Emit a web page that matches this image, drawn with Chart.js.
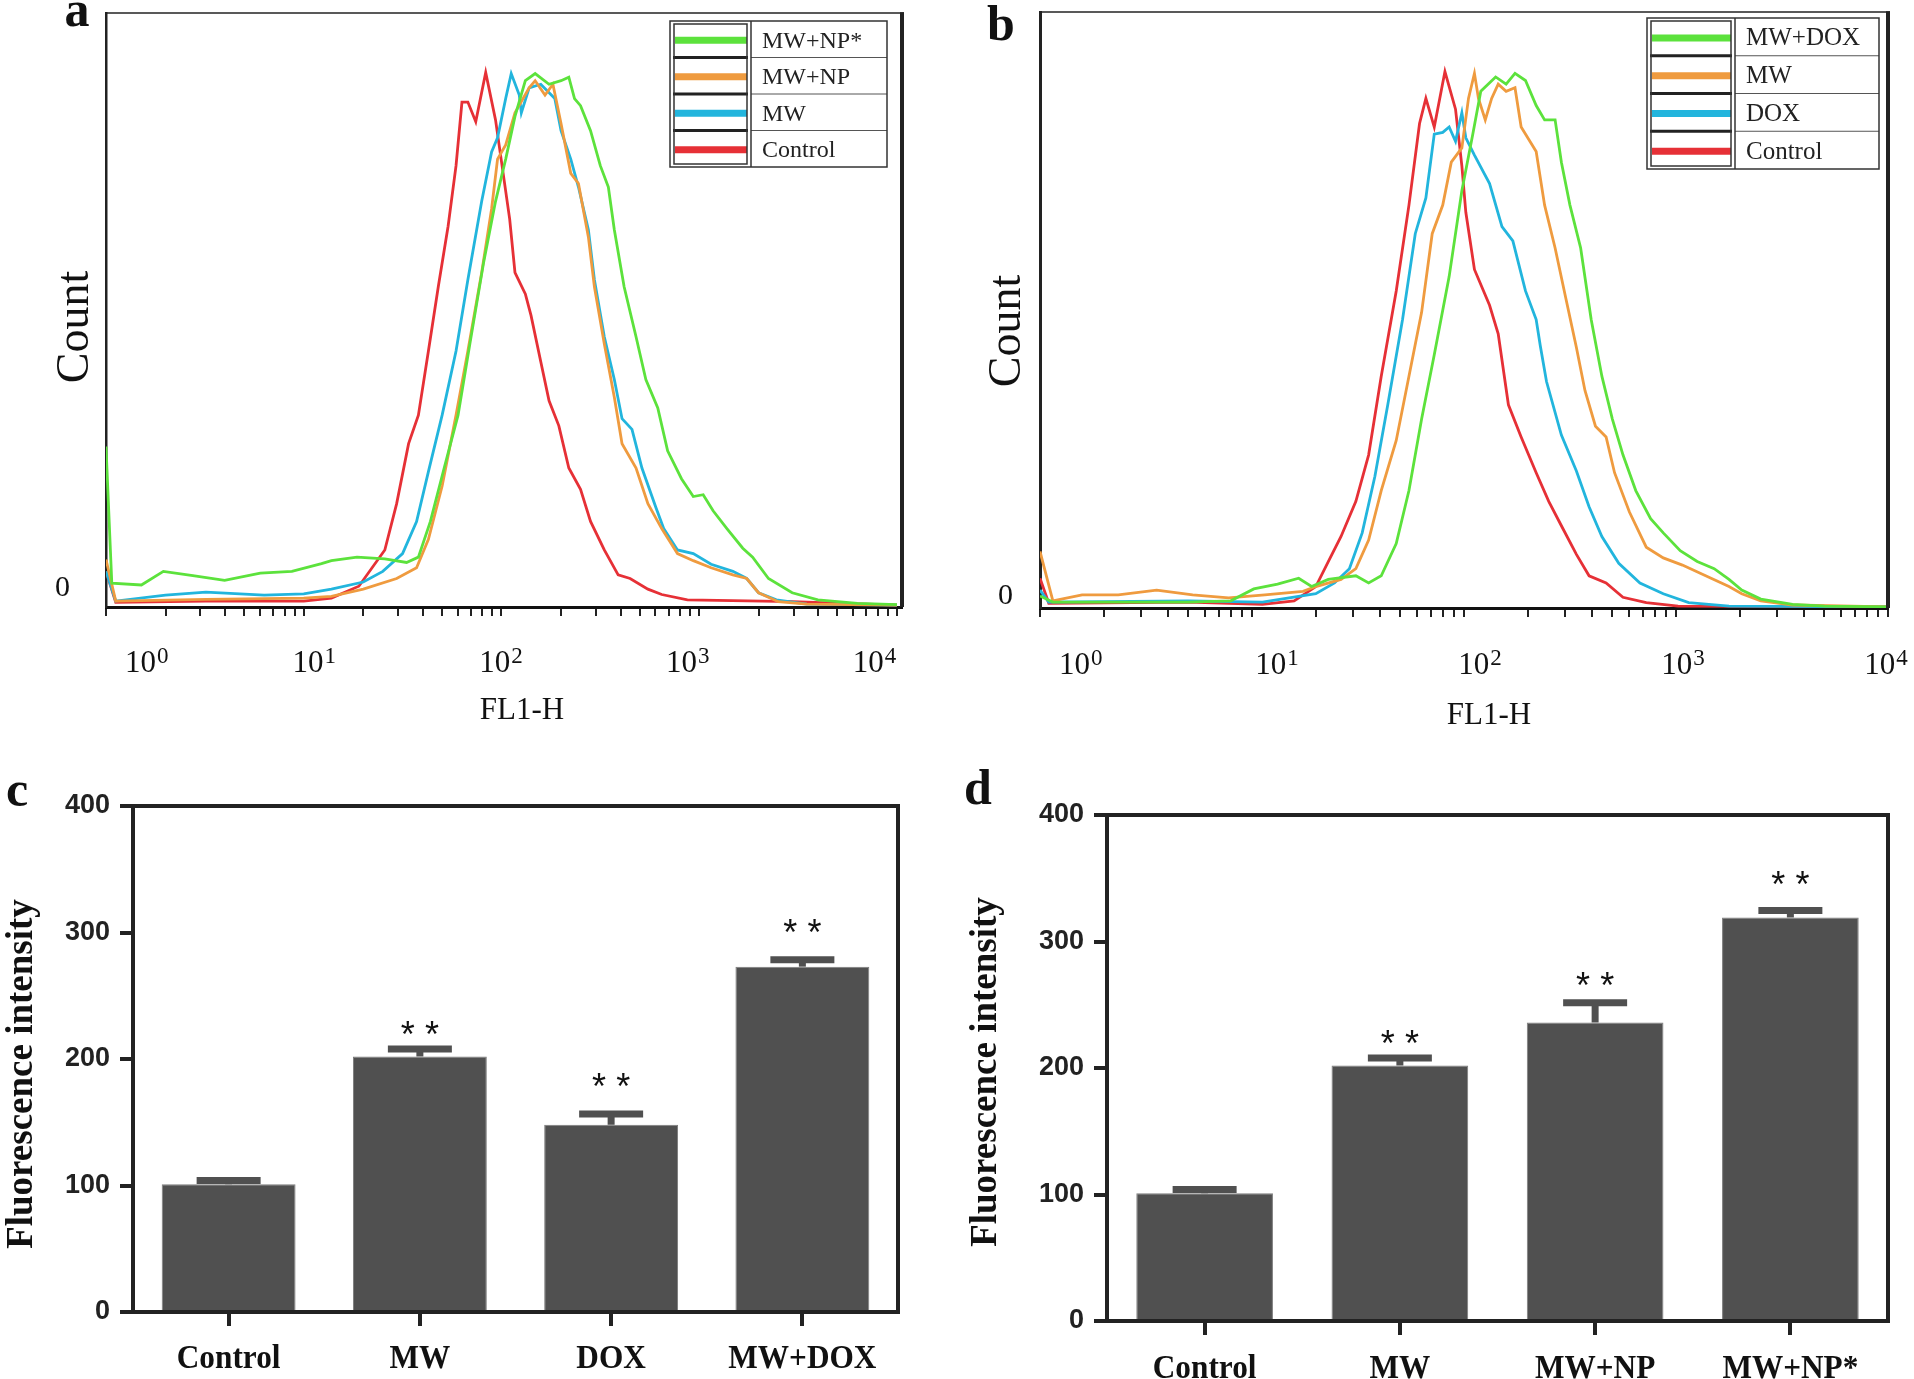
<!DOCTYPE html>
<html>
<head>
<meta charset="utf-8">
<title>FL1-H histograms and fluorescence intensity</title>
<script src="https://cdn.jsdelivr.net/npm/chart.js@4.4.1/dist/chart.umd.min.js"></script>
<style>
  html, body { margin: 0; padding: 0; background: #fff; }
  #page { position: relative; width: 1914px; height: 1379px; overflow: hidden; }
  #page canvas { position: absolute; left: 0; top: 0; }
</style>
</head>
<body>
<div id="page">
  <canvas id="histA" width="1914" height="1379"></canvas>
  <canvas id="histB" width="1914" height="1379"></canvas>
  <canvas id="barC" width="1914" height="1379"></canvas>
  <canvas id="barD" width="1914" height="1379"></canvas>
</div>
<script>
// ---- panel a : FL1-H histograms, [FL1-H, count (% of peak scale)]
const aMWNPstar = [[1.0,27],[1.07,4],[1.51,3.7],[1.95,6],[2.75,5.3],[3.98,4.5],[6.03,5.7],[8.71,6],[12.3,7.3],[13.8,7.8],[18.6,8.4],[25.7,8.1],[33.1,7.5],[38,8.4],[43.7,14.4],[51.3,23.4],[60.3,32.3],[69.2,44.3],[81.3,58.1],[93.3,68.3],[105,75.4],[117,82.6],[132,88.6],[148,89.8],[174,88],[200,88.6],[219,89.2],[234,85.6],[251,84.4],[282,80.2],[316,74.3],[347,70.7],[372,63.5],[417,53.9],[479,45.5],[537,38.3],[617,33.5],[692,26.3],[813,21.6],[933,18.6],[1047,18.9],[1175,16.2],[1380,13.2],[1660,9.9],[1862,8.4],[2239,4.8],[2951,2.4],[3981,1.2],[6310,0.6],[10000,0.4]];
const aMWNP = [[1.0,8],[1.12,1],[3.2,1.3],[10,1.5],[13.8,1.8],[20,3],[29.5,4.8],[37.2,6.6],[42.7,11.4],[50.1,20.4],[58.9,32.3],[67.6,43.1],[79.4,56.3],[89.1,67],[95.5,75.4],[105,77.8],[117,83.2],[138,87.4],[148,88.6],[166,86.2],[182,88],[200,81.4],[224,73],[245,71.3],[275,62.3],[295,53.9],[331,44.3],[372,35.3],[407,27.5],[479,23.4],[550,17.4],[646,13.2],[776,9],[933,7.8],[1148,6.6],[1479,5.4],[1738,4.8],[1995,2.4],[2512,0.9],[3500,0.5],[10000,0.3]];
const aMW = [[1.0,6],[1.12,1],[2,2],[3.2,2.5],[6.3,2],[10,2.2],[13.8,3],[20,4.2],[25.1,6],[31.6,9],[37.2,14.4],[42.7,22.8],[50.1,32.3],[58.9,43.1],[67.6,55.1],[79.4,68.3],[89.1,76.6],[95.5,79],[105,85.6],[112,89.8],[123,86.2],[126,83.2],[138,87.4],[158,88],[186,85.6],[200,80.2],[224,75.4],[245,70.7],[275,63.5],[295,55.1],[331,45.5],[372,38.3],[407,31.7],[457,29.9],[513,23.4],[603,16.8],[661,13.2],[776,9.6],[933,9],[1148,7.2],[1479,6],[1738,4.8],[1995,2.4],[2455,1.2],[3500,0.5],[10000,0.3]];
const aControl = [[1.0,6],[1.12,0.8],[3.2,1],[10,1],[13.8,1.5],[19,3.5],[25.7,9.6],[29.5,17.4],[33.9,27.5],[38,32.3],[42.7,43.1],[47.9,53.9],[53.7,64.1],[58.9,74.3],[63.1,85],[67.6,85],[74.1,81.7],[83.2,90],[93.3,82],[110,65.3],[117,56.3],[132,52.7],[141,49.1],[158,41.3],[174,34.7],[195,30.5],[219,23.4],[251,19.8],[282,14.4],[331,9.6],[389,5.4],[447,4.8],[550,3],[646,2.1],[871,1.2],[2951,0.9],[10000,0.3]];

// ---- panel b
const bMWDOX = [[1.0,2],[1.15,1],[5,1],[7.94,1.2],[10.2,3.2],[13.2,4],[16.6,5],[19.1,3.6],[22.9,4.8],[30.9,5.4],[35.5,4.2],[40.7,5.4],[47.9,10.8],[55,19.7],[63.1,31.7],[72.4,42.5],[85.1,55.6],[97.7,70],[110,79.5],[120,86.7],[141,89.1],[158,87.9],[174,89.7],[195,88.5],[219,84.3],[240,81.9],[269,81.9],[288,74.8],[316,67.6],[355,60.4],[398,48.4],[447,38.9],[501,31.7],[562,25.7],[646,19.7],[759,15],[871,12.6],[1047,9.6],[1259,7.8],[1514,6.6],[1778,4.8],[2042,3],[2512,1.5],[3548,0.6],[5012,0.3],[10000,0.2]];
const bMW = [[1.0,9.5],[1.15,1.2],[1.58,2.2],[2.34,2.2],[3.55,3],[5.25,2.2],[7.76,1.7],[11.5,2.2],[17.4,2.8],[20,3.6],[26.3,4.8],[30.9,6.6],[35.5,11.4],[40.7,19.7],[47.9,28.1],[55,38.9],[63.1,49.6],[70.8,62.8],[79.4,67.6],[87.1,74.8],[97.7,77.2],[105,85.5],[112,89.7],[117,85.5],[126,81.9],[135,85.5],[145,87.9],[158,86.7],[174,87.3],[186,80.7],[219,76.6],[240,67.6],[269,60.4],[302,52],[339,43.7],[372,36.5],[417,30.5],[468,28.7],[513,22.7],[603,16.1],[724,10.2],[871,8.4],[1072,7.2],[1380,5.4],[1778,3.6],[2042,2.4],[2512,1.2],[3548,0.5],[10000,0.2]];
const bDOX = [[1.0,3],[1.1,1],[5,1.2],[11.2,1],[20,2.4],[24.5,4.2],[28.8,6.6],[33.1,12.6],[38,22.1],[43.7,34.1],[51.3,48.4],[58.9,62.8],[66.1,68.8],[72.4,79.5],[79.4,79.8],[85.1,80.7],[91.2,78.3],[97.7,83.1],[102,78.9],[112,76],[132,71.2],[151,64],[170,61.6],[195,53.2],[219,48.4],[229,44],[245,38],[288,29],[339,23],[389,17],[447,12],[537,7.5],[676,4.2],[871,2.4],[1148,0.9],[1778,0.3],[10000,0.2]];
const bControl = [[1.0,5],[1.1,0.8],[5,1],[11.2,0.6],[15.8,1.2],[20,3.6],[22.9,7.8],[26.3,12],[30.9,17.9],[35.5,25.7],[40.7,38.9],[47.9,53.2],[55,67.6],[61.7,81.3],[66.1,85.5],[72.4,80.7],[81.3,90],[91.2,83.7],[97.7,74.2],[102,66.4],[112,56.8],[132,50.8],[145,46],[162,34.1],[186,28.7],[219,22.7],[251,17.9],[288,13.8],[339,9],[389,5.4],[468,4.2],[562,1.8],[724,0.9],[1023,0.3],[10000,0.2]];

const histDecades = [1, 10, 100, 1000, 10000];
const minorSteps = [2, 3, 4, 5, 6, 7, 8, 9];

// ---- panel c / d : mean fluorescence intensity
const cCategories = ['Control', 'MW', 'DOX', 'MW+DOX'];
const cMeans = [101, 202, 148, 273];
const cErrors = [3, 6, 8.5, 5.5];
const cStars = [null, 226, 185, 307];

const dCategories = ['Control', 'MW', 'MW+NP', 'MW+NP*'];
const dMeans = [101, 202, 236, 319];
const dErrors = [3, 6, 15.5, 5.5];
const dStars = [null, 226, 272, 352];

const barTicks = [0, 100, 200, 300, 400];

const W = 1914, H = 1379;
const SERIF = "'Liberation Serif', 'Times New Roman', serif";
const SANS = "'Liberation Sans', Arial, sans-serif";
const GREEN = '#5ce23c', ORANGE = '#ef9b3f', CYAN = '#22b5dd', RED = '#e63036';
const BAR = '#505050';

Chart.defaults.font.family = SERIF;
Chart.defaults.color = '#111';

const toXY = pts => pts.map(p => ({ x: p[0], y: p[1] }));

function logTicks() {
  const out = [];
  histDecades.forEach((d, i) => {
    out.push(d);
    if (i < histDecades.length - 1) minorSteps.forEach(m => out.push(d * m));
  });
  return out;
}

// top + right border of the plotting box
function frame(top, right) {
  return {
    id: 'frame',
    afterDraw(chart) {
      const { ctx, chartArea: a } = chart;
      ctx.save();
      ctx.strokeStyle = '#222';
      ctx.lineWidth = top;
      ctx.beginPath(); ctx.moveTo(a.left, a.top); ctx.lineTo(a.right + right / 2, a.top); ctx.stroke();
      ctx.lineWidth = right;
      ctx.beginPath(); ctx.moveTo(a.right, a.top - top / 2); ctx.lineTo(a.right, a.bottom); ctx.stroke();
      ctx.restore();
    }
  };
}

function pageText(items) {
  return {
    id: 'pageText',
    afterDraw(chart) {
      const ctx = chart.ctx;
      items.forEach(t => {
        ctx.save();
        ctx.font = t.font;
        ctx.fillStyle = '#111';
        ctx.textAlign = t.align || 'center';
        ctx.textBaseline = t.baseline || 'alphabetic';
        ctx.translate(t.x, t.y);
        if (t.rotate) ctx.rotate(t.rotate);
        ctx.fillText(t.text, 0, 0);
        ctx.restore();
      });
    }
  };
}

// 10^k labels under the log axis
function decadeLabels(cfg) {
  return {
    id: 'decadeLabels',
    afterDraw(chart) {
      const ctx = chart.ctx, sx = chart.scales.x;
      ctx.save();
      ctx.fillStyle = '#111';
      ctx.textAlign = 'left';
      ctx.textBaseline = 'alphabetic';
      histDecades.forEach((v, k) => {
        const exp = String(Math.round(Math.log10(v)));
        const px = sx.getPixelForValue(v);
        ctx.font = '31px ' + SERIF;
        const wb = ctx.measureText('10').width;
        ctx.font = '23px ' + SERIF;
        const we = ctx.measureText(exp).width;
        const w = wb + 1 + we;
        const left = k === 0 ? px + cfg.firstGap : px + cfg.shift + cfg.slope * (k - 1) - w / 2;
        ctx.font = '31px ' + SERIF;
        ctx.fillText('10', left, cfg.baseline);
        ctx.font = '23px ' + SERIF;
        ctx.fillText(exp, left + wb + 1, cfg.baseline - 9);
      });
      ctx.restore();
    }
  };
}

function tableLegend(box) {
  return {
    id: 'tableLegend',
    afterDraw(chart) {
      const ctx = chart.ctx;
      const sets = chart.data.datasets;
      const rh = box.h / sets.length;
      const sx = box.x + box.split;
      ctx.save();
      ctx.fillStyle = '#fff';
      ctx.fillRect(box.x, box.y, box.w, box.h);
      sets.forEach((ds, i) => {
        const top = box.y + i * rh;
        if (i > 0) {
          ctx.strokeStyle = '#222'; ctx.lineWidth = 3;
          ctx.beginPath(); ctx.moveTo(box.x + 3, top); ctx.lineTo(sx - 3, top); ctx.stroke();
          ctx.strokeStyle = '#555'; ctx.lineWidth = 1;
          ctx.beginPath(); ctx.moveTo(sx, top); ctx.lineTo(box.x + box.w, top); ctx.stroke();
        }
        ctx.strokeStyle = ds.borderColor; ctx.lineWidth = 7; ctx.lineCap = 'butt';
        ctx.beginPath(); ctx.moveTo(box.x + 5, top + rh * 0.53); ctx.lineTo(sx - 4, top + rh * 0.53); ctx.stroke();
        ctx.fillStyle = '#222';
        ctx.font = box.font + 'px ' + SERIF;
        ctx.textAlign = 'left'; ctx.textBaseline = 'middle';
        ctx.fillText(ds.label, sx + 11, top + rh / 2 + 2);
      });
      ctx.strokeStyle = '#333'; ctx.lineWidth = 1.5;
      ctx.strokeRect(box.x, box.y, box.w, box.h);
      ctx.strokeRect(box.x + 4, box.y + 3, box.split - 8, box.h - 6);
      ctx.beginPath(); ctx.moveTo(sx, box.y); ctx.lineTo(sx, box.y + box.h); ctx.stroke();
      ctx.restore();
    }
  };
}

function histChart(id, sets, area, range, extras) {
  return new Chart(document.getElementById(id), {
    type: 'line',
    data: {
      datasets: sets.map(s => ({
        label: s.label, data: toXY(s.points), borderColor: s.color,
        borderWidth: 2.8, pointRadius: 0, tension: 0, fill: false
      }))
    },
    options: {
      responsive: false, animation: false, devicePixelRatio: 1,
      layout: { padding: { left: area.left - 60, top: area.top, right: W - area.right, bottom: H - area.bottom - 80 } },
      plugins: { legend: { display: false }, tooltip: { enabled: false } },
      scales: {
        x: {
          type: 'logarithmic', min: range[0], max: range[1],
          afterBuildTicks: s => { s.ticks = logTicks().map(v => ({ value: v })); },
          afterFit: s => { s.height = 80; },
          ticks: { display: false, autoSkip: false },
          grid: { drawOnChartArea: false, drawTicks: true, tickLength: 9, lineWidth: 2, color: '#222' },
          border: { width: 3, color: '#111' }
        },
        y: {
          min: 0, max: 100,
          afterFit: s => { s.width = 60; },
          ticks: { display: false },
          grid: { display: false, drawTicks: false },
          border: { width: area.leftBorder, color: '#222' }
        }
      }
    },
    plugins: [frame(1.5, 4)].concat(extras)
  });
}

function errorBars(errors, stars) {
  return {
    id: 'errorBars',
    afterDatasetsDraw(chart) {
      const ctx = chart.ctx, sy = chart.scales.y;
      const meta = chart.getDatasetMeta(0);
      const means = chart.data.datasets[0].data;
      ctx.save();
      meta.data.forEach((bar, i) => {
        const yTop = sy.getPixelForValue(means[i] + errors[i]);
        ctx.strokeStyle = BAR; ctx.lineWidth = 7; ctx.lineCap = 'butt';
        ctx.beginPath(); ctx.moveTo(bar.x, bar.y); ctx.lineTo(bar.x, yTop); ctx.stroke();
        ctx.beginPath(); ctx.moveTo(bar.x - 32, yTop); ctx.lineTo(bar.x + 32, yTop); ctx.stroke();
        if (stars[i] != null) {
          ctx.fillStyle = '#111';
          ctx.font = '36px ' + SANS;
          ctx.textAlign = 'center'; ctx.textBaseline = 'alphabetic';
          ctx.fillText('* *', bar.x, sy.getPixelForValue(stars[i]) + 21);
        }
      });
      ctx.restore();
    }
  };
}

function categoryLabels(baseline) {
  return {
    id: 'categoryLabels',
    afterDraw(chart) {
      const ctx = chart.ctx, sx = chart.scales.x;
      ctx.save();
      ctx.fillStyle = '#111';
      ctx.font = 'bold 34px ' + SERIF;
      ctx.textAlign = 'center'; ctx.textBaseline = 'alphabetic';
      chart.data.labels.forEach((lab, i) => {
        ctx.save();
        ctx.translate(sx.getPixelForTick(i), baseline);
        ctx.scale(0.92, 1);
        ctx.fillText(lab, 0, 0);
        ctx.restore();
      });
      ctx.restore();
    }
  };
}

function barChart(id, cats, means, area, extras) {
  return new Chart(document.getElementById(id), {
    type: 'bar',
    data: {
      labels: cats,
      datasets: [{
        data: means, backgroundColor: BAR, borderColor: '#7c7c7c', borderWidth: 1,
        barPercentage: 0.7, categoryPercentage: 1
      }]
    },
    options: {
      responsive: false, animation: false, devicePixelRatio: 1,
      layout: { padding: { left: area.left - 80, top: area.top, right: W - area.right, bottom: H - area.bottom - 40 } },
      plugins: { legend: { display: false }, tooltip: { enabled: false } },
      scales: {
        x: {
          afterFit: s => { s.height = 40; },
          ticks: { display: false },
          grid: { offset: false, drawOnChartArea: false, tickLength: 14, lineWidth: 4, color: '#222' },
          border: { width: 4, color: '#222' }
        },
        y: {
          min: 0, max: 400,
          afterBuildTicks: s => { s.ticks = barTicks.map(v => ({ value: v })); },
          afterFit: s => { s.width = 80; },
          ticks: { font: { family: SANS, size: 27, weight: 'bold' }, color: '#222', padding: 10 },
          grid: { drawOnChartArea: false, tickLength: 13, lineWidth: 4, color: '#222' },
          border: { width: 4, color: '#222' }
        }
      }
    },
    plugins: [frame(4, 4)].concat(extras)
  });
}

// panel a
histChart('histA', [
  { label: 'MW+NP*', points: aMWNPstar, color: GREEN },
  { label: 'MW+NP', points: aMWNP, color: ORANGE },
  { label: 'MW', points: aMW, color: CYAN },
  { label: 'Control', points: aControl, color: RED }
], { left: 106, top: 13, right: 902, bottom: 607, leftBorder: 2.5 }, [1, 10600], [
  decadeLabels({ baseline: 672, firstGap: 19, shift: 10.5, slope: -11 }),
  tableLegend({ x: 670, y: 21, w: 217, h: 146, split: 81, font: 24 }),
  pageText([
    { text: 'a', x: 77, y: 26, font: 'bold 50px ' + SERIF },
    { text: 'Count', x: 76, y: 327, font: '46px ' + SERIF, rotate: -Math.PI / 2, baseline: 'middle' },
    { text: 'FL1-H', x: 522, y: 711, font: '31px ' + SERIF, baseline: 'middle' },
    { text: '0', x: 70, y: 588, font: '30px ' + SERIF, align: 'right', baseline: 'middle' }
  ])
]);

// panel b
histChart('histB', [
  { label: 'MW+DOX', points: bMWDOX, color: GREEN },
  { label: 'MW', points: bMW, color: ORANGE },
  { label: 'DOX', points: bDOX, color: CYAN },
  { label: 'Control', points: bControl, color: RED }
], { left: 1040, top: 12, right: 1888, bottom: 608, leftBorder: 3 }, [1, 10000], [
  decadeLabels({ baseline: 674, firstGap: 19, shift: 25, slope: -9 }),
  tableLegend({ x: 1647, y: 18, w: 232, h: 151, split: 88, font: 25 }),
  pageText([
    { text: 'b', x: 1001, y: 40, font: 'bold 50px ' + SERIF },
    { text: 'Count', x: 1008, y: 331, font: '46px ' + SERIF, rotate: -Math.PI / 2, baseline: 'middle' },
    { text: 'FL1-H', x: 1489, y: 716, font: '31px ' + SERIF, baseline: 'middle' },
    { text: '0', x: 1013, y: 596, font: '30px ' + SERIF, align: 'right', baseline: 'middle' }
  ])
]);

// panel c
barChart('barC', cCategories, cMeans, { left: 133, top: 806, right: 898, bottom: 1312 }, [
  errorBars(cErrors, cStars),
  categoryLabels(1368),
  pageText([
    { text: 'c', x: 17, y: 806, font: 'bold 50px ' + SERIF },
    { text: 'Fluorescence intensity', x: 22, y: 1074, font: 'bold 37px ' + SERIF, rotate: -Math.PI / 2, baseline: 'middle' }
  ])
]);

// panel d
barChart('barD', dCategories, dMeans, { left: 1107, top: 815, right: 1888, bottom: 1321 }, [
  errorBars(dErrors, dStars),
  categoryLabels(1378),
  pageText([
    { text: 'd', x: 978, y: 804, font: 'bold 50px ' + SERIF },
    { text: 'Fluorescence intensity', x: 986, y: 1072, font: 'bold 37px ' + SERIF, rotate: -Math.PI / 2, baseline: 'middle' }
  ])
]);
</script>
</body>
</html>
